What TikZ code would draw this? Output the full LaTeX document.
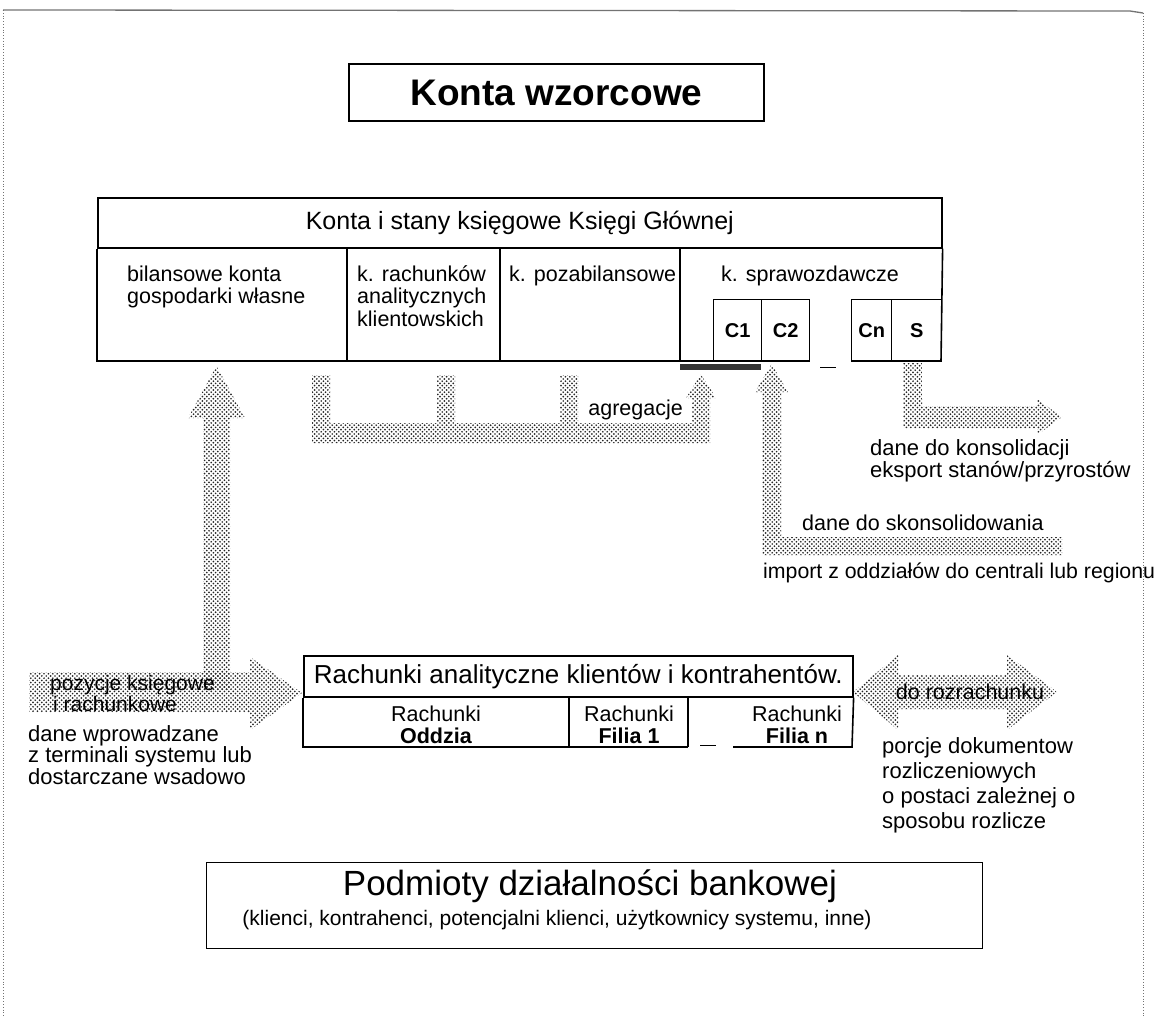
\documentclass[tikz,border=0pt]{standalone}
\usepackage{fontspec}
\setmainfont{Liberation Sans}
\usetikzlibrary{patterns}

% fine diagonal dot screen used for the flow bands
\pgfdeclarepatternformonly{finedots}{\pgfqpoint{-1pt}{-1pt}}{\pgfqpoint{5pt}{5pt}}{\pgfqpoint{4.4pt}{4.4pt}}{%
  \pgfpathcircle{\pgfqpoint{0pt}{0pt}}{0.95pt}%
  \pgfpathcircle{\pgfqpoint{2.2pt}{2.2pt}}{0.95pt}%
  \pgfusepath{fill}}

\tikzset{
  heavy/.style={draw, line width=1.6pt},
  titlebox/.style={draw, line width=2.2pt, inner sep=0pt},
  flow/.style={pattern=finedots, pattern color=black!85},
  txt/.style={inner sep=0pt, font=\fontsize{21.5}{22.5}\selectfont, align=left},
  cbox/.style={draw, line width=1.4pt, inner sep=0pt, minimum width=48, minimum height=62,
               anchor=north west, font=\bfseries\fontsize{20}{22}\selectfont},
  dashmark/.style={draw, line width=1pt},
  pageedge/.style={draw=black!55, line width=0.8pt, dotted},
}
% equal top for the first line of every cell text
\newcommand{\topline}{\vphantom{ó}}

\begin{document}
\begin{tikzpicture}[x=1pt,y=-1pt]
\useasboundingbox (0,0) rectangle (1155,1017);

% page edges
\draw[black!55, line width=1.3pt] (3,10) -- (1130,11) -- (1143,13);
\draw[pageedge] (3,10) -- (3,1017);
\draw[pageedge] (1143,13) -- (1143,1017);

% title
\node[titlebox, minimum width=415, minimum height=57, font=\bfseries\fontsize{37}{40}\selectfont]
  (title) at (556.5,92.5) {Konta wzorcowe};

% ---------- general ledger block ----------
\node[heavy, inner sep=0pt, minimum width=844, minimum height=50, anchor=north west,
      font=\fontsize{25}{28}\selectfont] (gl) at (97,197) {Konta i stany księgowe Księgi Głównej};
\draw[heavy] (gl.south west) -- (97,361) -- (809,361);
\draw[heavy] (851,361) -- (941,361) -- (gl.south east);
\draw[heavy] (347,247) -- (347,361);
\draw[heavy] (500,247) -- (500,361);
\draw[heavy] (680,247) -- (680,361);

\node[txt, anchor=north west] (bil) at (127,265) {\topline bilansowe konta\\gospodarki własne};
\node[txt, anchor=north west] (anal) at (357,265) {\topline k. rachunków\\analitycznych\\klientowskich};
\node[txt, anchor=north west] (poza) at (509,265) {\topline k. pozabilansowe};
\node[txt, anchor=north] (spraw) at (810,265) {\topline k. sprawozdawcze};

\node[cbox] (c1) at (713,299) {C1};
\node[cbox] (c2) at (761,299) {C2};
\node[cbox, minimum width=40] (cn) at (851,299) {Cn};
\node[cbox, minimum width=50] (s) at (891,299) {S};
\draw[dashmark] (820,367) -- (836,367);

% aggregation target marker
\fill[black!80] (680,364) rectangle (761,370);

% ---------- flow bands ----------
% input: horizontal band with an upward branch into the ledger
\fill[flow] (29,672) -- (250,672) -- (250,657) -- (302,693) -- (250,730) -- (250,712) -- (29,712) -- cycle;
\fill[flow] (203,690) -- (203,418) -- (188,418) -- (216.5,366) -- (245,418) -- (230,418) -- (230,690) -- cycle;

% aggregation
\fill[flow] (312,375) -- (330,375) -- (330,423) -- (437,423) -- (437,375) -- (455,375) -- (455,423)
  -- (560,423) -- (560,375) -- (578,375) -- (578,423) -- (692,423) -- (692,398) -- (686,398)
  -- (701,374) -- (716,398) -- (710,398) -- (710,443) -- (312,443) -- cycle;

% import from branches
\fill[flow] (762,555) -- (762,392) -- (755,392) -- (771.5,364) -- (788,392) -- (781,392)
  -- (781,537) -- (1062,537) -- (1062,555) -- cycle;

% export for consolidation
\fill[flow] (903,363) -- (922,363) -- (922,406) -- (1037,406) -- (1037,399) -- (1062,417)
  -- (1037,435) -- (1037,428) -- (903,428) -- cycle;

% settlement exchange
\fill[flow] (853,692) -- (898,655) -- (898,675) -- (1007,675) -- (1007,655) -- (1057,692)
  -- (1007,730) -- (1007,709) -- (898,709) -- (898,730) -- cycle;

% ---------- labels ----------
\node[txt, anchor=east] (agr) at (683,410) {agregacje};
\node[txt, anchor=west, font=\fontsize{22}{20}\selectfont] (kons) at (870,461) {dane do konsolidacji\\eksport stanów/przyrostów};
\node[txt, anchor=west] (skons) at (802,523) {dane do skonsolidowania};
\node[txt, anchor=west, font=\fontsize{21.3}{22}\selectfont] (imp) at (763,573) {import z oddziałów do centrali lub regionu};

\node[txt, anchor=west, font=\fontsize{21}{19}\selectfont] (poz) at (50,693.5) {pozycje księgowe\\\hspace*{3pt}i rachunkowe};
\node[txt, anchor=west, font=\fontsize{22}{20.5}\selectfont] (wpr) at (28,755) {dane wprowadzane\\z terminali systemu lub\\dostarczane wsadowo};

\node[txt, anchor=center] (rozr) at (970,692) {do rozrachunku};
\node[txt, anchor=west, font=\fontsize{22}{25}\selectfont] (porc) at (882,785.5) {porcje dokumentow\\rozliczeniowych\\o postaci zależnej o\\sposobu rozlicze};

% ---------- analytic accounts block ----------
\node[heavy, inner sep=0pt, minimum width=549, minimum height=41, anchor=north west,
      font=\fontsize{26}{28}\selectfont] (ra) at (303,655) {Rachunki analityczne klientów i kontrahentów.};
\draw[heavy] (ra.south west) -- (303,747) -- (688,747);
\draw[heavy] (733,747) -- (852,747) -- (ra.south east);
\draw[heavy] (569,696) -- (569,747);
\draw[heavy] (688,696) -- (688,747);
\draw[dashmark] (700,745) -- (716,745);

\node[txt, align=center, anchor=center] (r1) at (436,725) {Rachunki\\\textbf{Oddzia}};
\node[txt, align=center, anchor=center] (r2) at (629,725) {Rachunki\\\textbf{Filia 1}};
\node[txt, align=center, anchor=center] (r3) at (797,725) {Rachunki\\\textbf{Filia n}};

% ---------- parties ----------
\node[draw, line width=1.2pt, minimum width=776, minimum height=86, anchor=north west, inner sep=0pt] (pod) at (206,862) {};
\node[inner sep=0pt, font=\fontsize{35}{38}\selectfont] (podt) at (590,886) {Podmioty działalności bankowej};
\node[inner sep=0pt, font=\fontsize{21}{22}\selectfont] (pods) at (557,920) {(klienci, kontrahenci, potencjalni klienci, użytkownicy systemu, inne)};

\end{tikzpicture}
\end{document}
